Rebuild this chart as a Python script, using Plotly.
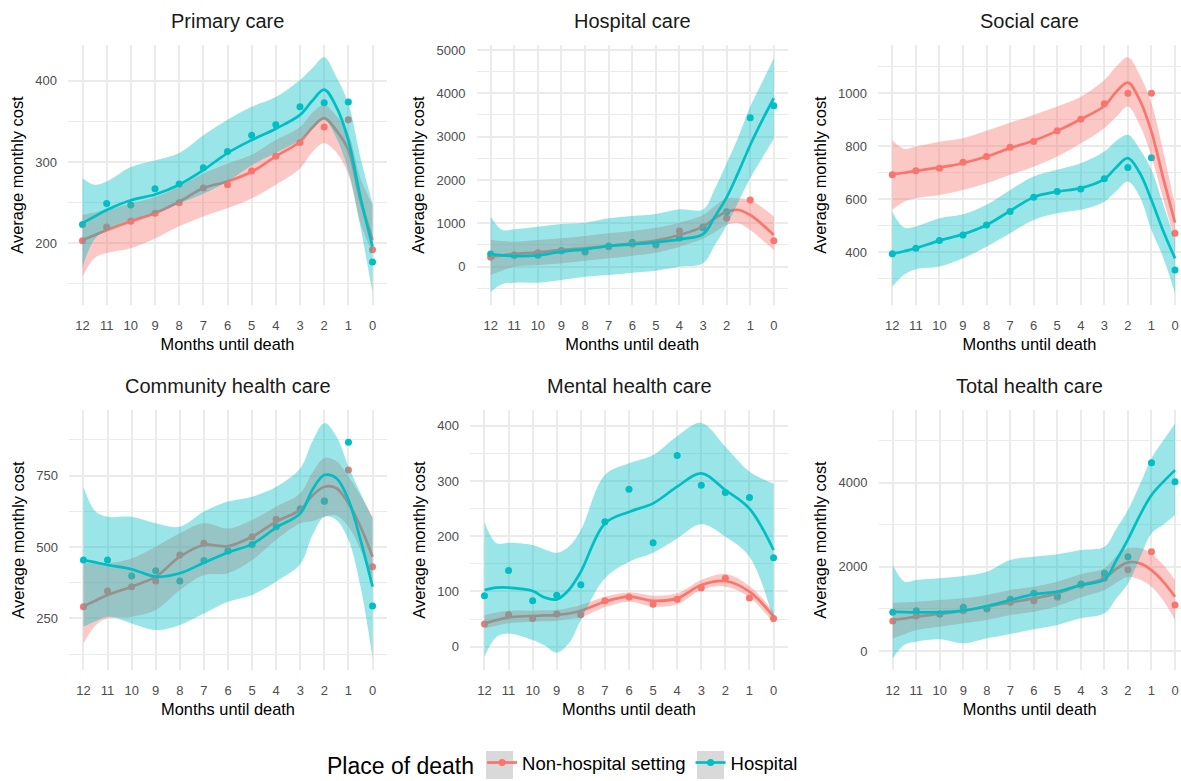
import plotly.graph_objects as go

W, H = 1181, 781
RED = "#F8766D"
CYAN = "#00BFC4"
RED_FILL = "rgba(248,118,109,0.4)"
CYAN_FILL = "rgba(0,191,196,0.4)"
FONT = "Liberation Sans, Arial, sans-serif"

# ---------------- data ----------------
MONTHS = [12, 11, 10, 9, 8, 7, 6, 5, 4, 3, 2, 1, 0]
MONTH_LABELS = [str(m) for m in MONTHS]
SERIES = ["Non-hospital setting", "Hospital"]
TITLES = ["Primary care", "Hospital care", "Social care",
          "Community health care", "Mental health care", "Total health care"]

# Primary care
PRIMARY_NH = [203, 220, 227, 237, 250, 268, 272, 289, 307, 324, 343, 352, 192]
PRIMARY_H = [223, 249, 247, 267, 273, 293, 313, 333, 346, 368, 373, 374, 177]
PRIMARY_FX = [12, 11.5, 11, 10, 9, 8, 7, 6, 5, 4, 3, 2.5, 2, 1.5, 1, 0.5, 0]
PRIMARY_NH_FIT = [204, 210, 216, 227, 237, 251, 268, 276, 288, 307, 325, 342, 354, 339, 315, 253, 204]
PRIMARY_NH_LO = [159, 182, 188, 194, 206, 221, 233, 243, 255, 272, 292, 312, 323, 312, 285, 225, 188]
PRIMARY_NH_HI = [235, 238, 241, 249, 257, 270, 286, 298, 309, 327, 343, 360, 370, 357, 335, 280, 247]
PRIMARY_H_FIT = [225, 233, 241, 253, 260, 272, 290, 311, 327, 341, 358, 375, 389, 368, 327, 257, 196]
PRIMARY_H_LO = [171, 205, 216, 229, 237, 249, 261, 276, 296, 311, 327, 340, 352, 330, 290, 220, 139]
PRIMARY_H_HI = [280, 272, 276, 294, 302, 311, 333, 352, 368, 380, 401, 415, 429, 405, 372, 306, 249]

# Hospital care
HOSP_NH = [215, 269, 323, 369, 338, 461, 523, 500, 823, 923, 1115, 1538, 600]
HOSP_H = [292, 262, 262, 369, 346, 477, 561, 515, 661, 900, 1269, 3438, 3715]
HOSP_FX = [12, 11.5, 11, 10, 9, 8, 7, 6, 5, 4, 3, 2.5, 2, 1.5, 1, 0.5, 0]
HOSP_NH_FIT = [231, 262, 292, 331, 385, 423, 477, 538, 600, 730, 923, 1120, 1269, 1308, 1192, 980, 731]
HOSP_NH_LO = [-192, -90, 0, 38, 77, 138, 192, 254, 323, 461, 650, 800, 962, 1000, 846, 620, 385]
HOSP_NH_HI = [615, 590, 577, 615, 654, 708, 769, 823, 900, 1015, 1192, 1400, 1578, 1580, 1539, 1370, 1154]
HOSP_H_FIT = [292, 262, 246, 262, 346, 400, 477, 515, 561, 630, 750, 1154, 1600, 2180, 2808, 3370, 3886]
HOSP_H_LO = [-577, -400, -369, -369, -308, -231, -192, -138, -92, 0, 77, 500, 950, 1500, 2040, 2500, 2950]
HOSP_H_HI = [1154, 846, 862, 923, 985, 1015, 1115, 1169, 1215, 1323, 1320, 1800, 2385, 3000, 3693, 4250, 4809]

# Social care
SOCIAL_NH = [692, 708, 717, 740, 761, 796, 818, 858, 902, 960, 1000, 1000, 472]
SOCIAL_H = [394, 415, 444, 465, 503, 554, 608, 629, 639, 677, 720, 757, 333]
SOCIAL_FX = [12, 11.5, 11, 10, 9, 8, 7, 6, 5, 4, 3, 2.5, 2, 1.5, 1, 0.5, 0]
SOCIAL_NH_FIT = [694, 700, 707, 720, 736, 761, 793, 821, 858, 902, 952, 1005, 1040, 975, 855, 680, 512]
SOCIAL_NH_LO = [560, 591, 604, 616, 635, 660, 692, 723, 761, 811, 868, 910, 950, 880, 761, 600, 447]
SOCIAL_NH_HI = [824, 790, 799, 817, 830, 858, 889, 918, 950, 987, 1050, 1100, 1136, 1070, 962, 780, 579]
SOCIAL_H_FIT = [394, 404, 415, 444, 468, 503, 556, 608, 629, 642, 676, 720, 755, 700, 597, 480, 377]
SOCIAL_H_LO = [270, 315, 336, 346, 377, 421, 472, 522, 547, 560, 591, 630, 667, 610, 484, 380, 245]
SOCIAL_H_HI = [553, 493, 497, 528, 543, 579, 635, 686, 711, 736, 780, 820, 843, 790, 711, 580, 447]

# Community health care
COMM_NH = [291, 346, 361, 381, 472, 513, 487, 536, 597, 633, 662, 770, 431]
COMM_H = [454, 454, 398, 417, 381, 453, 486, 509, 571, 633, 660, 867, 293]
COMM_FX = [12, 11.5, 11, 10, 9, 8, 7, 6, 5, 4, 3, 2.5, 2, 1.5, 1, 0.5, 0]
COMM_NH_FIT = [293, 312, 332, 361, 396, 466, 507, 503, 536, 589, 630, 680, 711, 706, 653, 571, 466]
COMM_NH_LO = [162, 225, 250, 256, 279, 349, 402, 408, 454, 525, 583, 590, 606, 610, 571, 490, 360]
COMM_NH_HI = [443, 443, 443, 460, 501, 548, 583, 565, 595, 641, 688, 760, 811, 800, 747, 680, 606]
COMM_H_FIT = [454, 446, 437, 422, 396, 408, 445, 481, 510, 568, 618, 700, 752, 741, 665, 525, 361]
COMM_H_LO = [221, 240, 256, 232, 209, 227, 267, 308, 332, 379, 440, 540, 606, 595, 525, 361, 110]
COMM_H_HI = [711, 624, 606, 606, 583, 571, 624, 659, 676, 711, 776, 870, 934, 887, 782, 688, 600]

# Mental health care
MENTAL_NH = [41, 58, 51, 59, 58, 83, 90, 77, 86, 106, 124, 88, 51]
MENTAL_H = [92, 138, 83, 93, 112, 226, 285, 188, 346, 292, 279, 270, 161]
MENTAL_FX = [12, 11.5, 11, 10, 9.5, 9, 8.5, 8, 7, 6, 5, 4, 3, 2, 1, 0]
MENTAL_NH_FIT = [42, 48, 53, 55.5, 56.5, 57.3, 60, 65, 81.4, 90.5, 83, 87.5, 111.6, 118.9, 99.5, 54.3]
MENTAL_NH_LO = [33.2, 38, 42.2, 45.2, 46, 47.1, 50, 53.1, 71.2, 81.4, 72.4, 76.6, 102.6, 108.6, 89.3, 42.2]
MENTAL_NH_HI = [57.3, 62, 65.2, 65.2, 65.8, 66.4, 70, 75.4, 90.5, 98.3, 92.3, 96.5, 120.7, 131.5, 109.8, 63.3]
MENTAL_H_FIT = [102.6, 106.8, 106.8, 100.8, 89, 85.7, 102.6, 135.7, 223, 244, 259.4, 289.6, 313.7, 283.6, 250, 175]
MENTAL_H_LO = [-18, 18, 24, 12, 2, -11, 6, 48, 123.7, 153.8, 170, 196, 221.4, 199, 163, 48]
MENTAL_H_HI = [226, 187, 188, 184, 176, 170, 181, 211, 310.7, 331.8, 347, 381, 405, 362, 317, 295]

# Total health care
TOTAL_NH = [713, 832, 879, 958, 998, 1156, 1196, 1275, 1568, 1727, 1930, 2360, 1093]
TOTAL_H = [919, 958, 879, 1038, 1014, 1228, 1370, 1315, 1592, 1846, 2242, 4475, 4024]
TOTAL_FX = [12, 11.5, 11, 10, 9, 8, 7, 6, 5, 4, 3, 2.5, 2, 1.5, 1, 0.5, 0]
TOTAL_NH_FIT = [737, 775, 816, 879, 958, 1053, 1156, 1251, 1370, 1568, 1727, 1950, 2106, 2082, 1924, 1650, 1290]
TOTAL_NH_LO = [301, 400, 499, 578, 657, 737, 855, 935, 1069, 1275, 1450, 1620, 1765, 1700, 1527, 1200, 736]
TOTAL_NH_HI = [1148, 1160, 1172, 1212, 1251, 1331, 1450, 1529, 1648, 1822, 1964, 2250, 2439, 2450, 2320, 2050, 1686]
TOTAL_H_FIT = [935, 925, 919, 919, 958, 1069, 1212, 1347, 1410, 1568, 1700, 2150, 2650, 3220, 3705, 4020, 4299]
TOTAL_H_LO = [-174, 150, 222, 277, 182, 301, 404, 515, 618, 776, 895, 1250, 1600, 2200, 2795, 3000, 3230]
TOTAL_H_HI = [2044, 1648, 1687, 1727, 1782, 1885, 2162, 2242, 2297, 2400, 2477, 2900, 3350, 3950, 4577, 5000, 5408]

PANELS = [
    (PRIMARY_NH, PRIMARY_H, PRIMARY_FX, PRIMARY_NH_FIT, PRIMARY_NH_LO, PRIMARY_NH_HI,
     PRIMARY_H_FIT, PRIMARY_H_LO, PRIMARY_H_HI),
    (HOSP_NH, HOSP_H, HOSP_FX, HOSP_NH_FIT, HOSP_NH_LO, HOSP_NH_HI,
     HOSP_H_FIT, HOSP_H_LO, HOSP_H_HI),
    (SOCIAL_NH, SOCIAL_H, SOCIAL_FX, SOCIAL_NH_FIT, SOCIAL_NH_LO, SOCIAL_NH_HI,
     SOCIAL_H_FIT, SOCIAL_H_LO, SOCIAL_H_HI),
    (COMM_NH, COMM_H, COMM_FX, COMM_NH_FIT, COMM_NH_LO, COMM_NH_HI,
     COMM_H_FIT, COMM_H_LO, COMM_H_HI),
    (MENTAL_NH, MENTAL_H, MENTAL_FX, MENTAL_NH_FIT, MENTAL_NH_LO, MENTAL_NH_HI,
     MENTAL_H_FIT, MENTAL_H_LO, MENTAL_H_HI),
    (TOTAL_NH, TOTAL_H, TOTAL_FX, TOTAL_NH_FIT, TOTAL_NH_LO, TOTAL_NH_HI,
     TOTAL_H_FIT, TOTAL_H_LO, TOTAL_H_HI),
]

# ---------------- layout geometry (pixels) ----------------
BOXES = [(68, 387, 45, 305), (476.5, 788, 45, 305), (878, 1181, 45, 305),
         (69, 387, 410, 670), (470, 788, 410, 670), (878.5, 1181, 410, 670)]
X_RANGES = [[12.6, -0.6], [12.6, -0.6], [12.607, -0.255],
            [12.6, -0.6], [12.6, -0.6], [12.607, -0.255]]
Y_RANGES = [[124, 444], [-885, 5115], [201, 1182], [69, 980], [-42.2, 428.4], [-451, 5727]]
Y_DTICK = [100, 1000, 200, 250, 100, 2000]

GRID = "#EBEBEB"
TICKC = "#4D4D4D"

fig = go.Figure()
layout = dict(
    width=W, height=H, margin=dict(l=0, r=0, t=0, b=0, autoexpand=False),
    paper_bgcolor="white", plot_bgcolor="white",
    font=dict(family=FONT, color="black"),
    showlegend=True, annotations=[], shapes=[],
)

LW = 2.7
MS = 7
for i, p in enumerate(PANELS):
    nh, h, fx, nhf, nhlo, nhhi, hf, hlo, hhi = p
    xa = "x" if i == 0 else f"x{i+1}"
    ya = "y" if i == 0 else f"y{i+1}"
    common = dict(xaxis=xa, yaxis=ya, showlegend=False)
    fig.add_trace(go.Scatter(x=MONTHS, y=nh, mode="markers", name=SERIES[0],
                             marker=dict(color=RED, size=MS), **common))
    fig.add_trace(go.Scatter(x=MONTHS, y=h, mode="markers", name=SERIES[1],
                             marker=dict(color=CYAN, size=MS), **common))
    for fit, lo, hi, col, fillc, nm in [(nhf, nhlo, nhhi, RED, RED_FILL, SERIES[0]),
                                        (hf, hlo, hhi, CYAN, CYAN_FILL, SERIES[1])]:
        fig.add_trace(go.Scatter(x=fx, y=lo, mode="lines", name=nm,
                                 line=dict(width=0, shape="spline", color=col),
                                 hoverinfo="skip", **common))
        fig.add_trace(go.Scatter(x=fx, y=hi, mode="lines", name=nm, fill="tonexty",
                                 fillcolor=fillc,
                                 line=dict(width=0, shape="spline", color=col),
                                 hoverinfo="skip", **common))
        fig.add_trace(go.Scatter(x=fx, y=fit, mode="lines", name=nm,
                                 line=dict(width=LW, shape="spline", color=col),
                                 **common))

    x0, x1, y0, y1 = BOXES[i]
    kx = "xaxis" if i == 0 else f"xaxis{i+1}"
    ky = "yaxis" if i == 0 else f"yaxis{i+1}"
    layout[kx] = dict(
        domain=[x0 / W, x1 / W], anchor=ya, range=X_RANGES[i],
        tickmode="array", tickvals=MONTHS, ticktext=MONTH_LABELS,
        showgrid=True, gridcolor=GRID, gridwidth=2, zeroline=False, showline=False,
        ticks="", tickfont=dict(size=13, color=TICKC), ticklabelstandoff=11,
        title=dict(text="Months until death", font=dict(size=16.4, color="black"), standoff=6),
    )
    d = Y_DTICK[i]
    layout[ky] = dict(
        domain=[1 - y1 / H, 1 - y0 / H], anchor=xa, range=Y_RANGES[i],
        tick0=0, dtick=d, showgrid=True, gridcolor=GRID, gridwidth=2,
        minor=dict(tick0=0, dtick=d / 2, showgrid=True, gridcolor=GRID, gridwidth=1.1),
        zeroline=False, showline=False, ticks="",
        tickfont=dict(size=13, color=TICKC), ticklabelstandoff=10,
        title=dict(text="Average monthly cost", font=dict(size=16.4, color="black"), standoff=7),
    )
    layout["annotations"].append(dict(
        text=TITLES[i], x=(x0 + x1) / 2 / W, y=1 - (y0 - 24.0) / H,
        xref="paper", yref="paper", showarrow=False, xanchor="center", yanchor="middle",
        font=dict(size=20, color="#1A1A1A"),
    ))

# legend entries
for nm, col in zip(SERIES, [RED, CYAN]):
    fig.add_trace(go.Scatter(x=[None], y=[None], mode="lines+markers", name=nm,
                             line=dict(color=col, width=LW), marker=dict(color=col, size=MS),
                             showlegend=True))

layout["legend"] = dict(
    orientation="h", x=325 / W, xanchor="left", y=1 - 764 / H, yanchor="middle",
    bgcolor="rgba(0,0,0,0)", font=dict(size=18.5, color="black"),
    title=dict(text="Place of death", font=dict(size=23, color="black"), side="left"),
    itemwidth=30, tracegroupgap=0, traceorder="normal",
)
for bx0, bx1 in [(486, 513), (697, 724)]:
    layout["shapes"].append(dict(
        type="rect", xref="paper", yref="paper", x0=bx0 / W, x1=bx1 / W,
        y0=1 - 779 / H, y1=1 - 751 / H, fillcolor="#D9D9D9", line=dict(width=0), layer="below",
    ))

fig.update_layout(**layout)
fig.write_html("out.html", config={"displayModeBar": False},
               post_script="document.body.style.margin='0';")
